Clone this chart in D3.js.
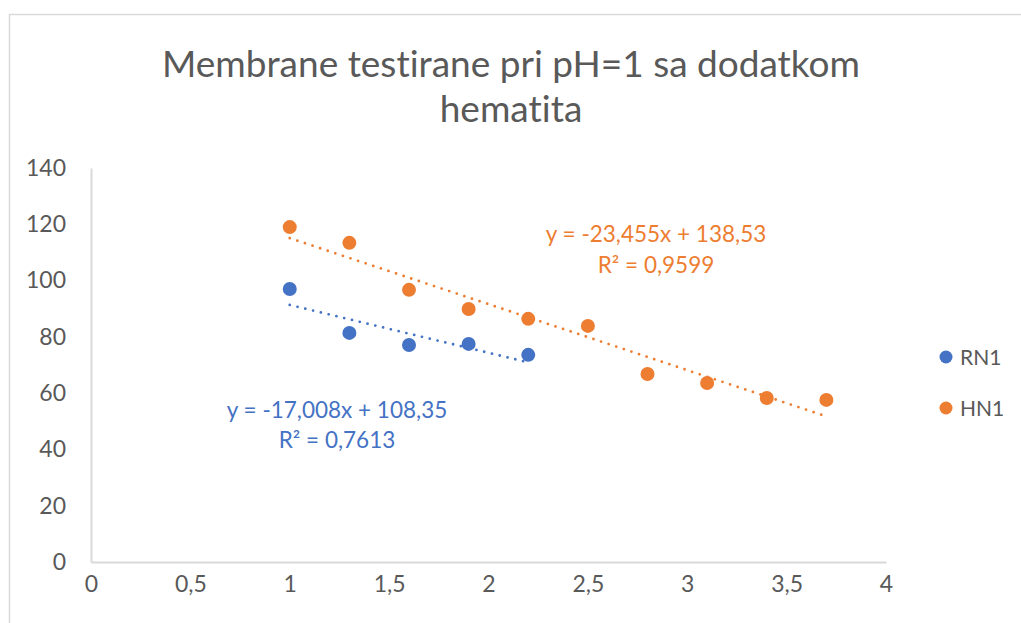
<!DOCTYPE html>
<html>
  <head>
    <script src="https://d3js.org/d3.v7.min.js"></script>
    <style>
      body { margin: 0; background: #fff; }
      text { font-family: Lato, "Open Sans", sans-serif; font-variant-ligatures: none; }
    </style>
  </head>
  <body>
    <svg id="chart" width="1021" height="623"></svg>
    <script>
      // data
      const xsRN1 = [1, 1.3, 1.6, 1.9, 2.2];
      const ysRN1 = [97, 81.4, 77.1, 77.5, 73.6];
      const xsHN1 = [1, 1.3, 1.6, 1.9, 2.2, 2.5, 2.8, 3.1, 3.4, 3.7];
      const ysHN1 = [119, 113.4, 96.7, 89.9, 86.4, 83.9, 66.8, 63.6, 58.3, 57.6];
      // trendline coefficients from the labels
      const trendRN1 = [-17.008, 108.35];
      const trendHN1 = [-23.455, 138.53];
      const xTicks = [0, 0.5, 1, 1.5, 2, 2.5, 3, 3.5, 4];
      const yTicks = [0, 20, 40, 60, 80, 100, 120, 140];
      const seriesNames = ["RN1", "HN1"];

      const blue = "#4472C4", orange = "#ED7D31", grey = "#595959";

      let svg = d3.select("#chart");

      // outer border of the chart area
      svg.append("rect")
        .attr("x", 9.5).attr("y", 14.5)
        .attr("width", 1030).attr("height", 630)
        .attr("fill", "none").attr("stroke", "#d9d9d9").attr("stroke-width", 1.5);

      let xScale = d3.scaleLinear().domain([0, 4]).range([91, 886]);
      let yScale = d3.scaleLinear().domain([0, 140]).range([562, 168]);

      // title
      svg.append("text").attr("x", 511).attr("y", 77)
        .attr("text-anchor", "middle").attr("font-size", 37).attr("fill", grey)
        .text("Membrane testirane pri pH=1 sa dodatkom");
      svg.append("text").attr("x", 511).attr("y", 122)
        .attr("text-anchor", "middle").attr("font-size", 37).attr("fill", grey)
        .text("hematita");

      // axes
      let xAxis = d3.axisBottom(xScale).tickValues(xTicks).tickSize(0).tickPadding(14)
        .tickFormat(d => String(d).replace(".", ","));
      let gx = svg.append("g").attr("transform", "translate(0," + yScale(0) + ")").call(xAxis);
      gx.select(".domain").attr("stroke", "#d9d9d9").attr("stroke-width", 2);
      gx.selectAll("text").attr("font-size", 23).attr("fill", grey).attr("font-family", "Lato");

      let yAxis = d3.axisLeft(yScale).tickValues(yTicks).tickSize(0).tickPadding(25);
      let gy = svg.append("g").attr("transform", "translate(" + xScale(0) + ",0)").call(yAxis);
      gy.select(".domain").attr("stroke", "#d9d9d9").attr("stroke-width", 2);
      gy.selectAll("text").attr("font-size", 23).attr("fill", grey).attr("font-family", "Lato");

      // dotted trendlines
      const trendLine = (xs, coef, color) => {
        let x0 = d3.min(xs), x1 = d3.max(xs);
        svg.append("line")
          .attr("x1", xScale(x0)).attr("y1", yScale(coef[0] * x0 + coef[1]))
          .attr("x2", xScale(x1)).attr("y2", yScale(coef[0] * x1 + coef[1]))
          .attr("stroke", color).attr("stroke-width", 2.8)
          .attr("stroke-linecap", "round").attr("stroke-dasharray", "0,8");
      };
      trendLine(xsRN1, trendRN1, blue);
      trendLine(xsHN1, trendHN1, orange);

      // points
      svg.append("g").selectAll("circle").data(xsRN1)
        .join("circle")
        .attr("cx", d => xScale(d))
        .attr("cy", (d, i) => yScale(ysRN1[i]))
        .attr("r", 7).attr("fill", blue);
      svg.append("g").selectAll("circle").data(xsHN1)
        .join("circle")
        .attr("cx", d => xScale(d))
        .attr("cy", (d, i) => yScale(ysHN1[i]))
        .attr("r", 7).attr("fill", orange);

      // trendline labels
      const fmt = v => String(v).replace(".", ",");
      svg.append("text").attr("x", 656).attr("y", 242).attr("text-anchor", "middle")
        .attr("font-size", 22.5).attr("fill", orange)
        .text("y = " + fmt(trendHN1[0]) + "x + " + fmt(trendHN1[1]));
      svg.append("text").attr("x", 656).attr("y", 273).attr("text-anchor", "middle")
        .attr("font-size", 22.5).attr("fill", orange)
        .text("R² = 0,9599");
      svg.append("text").attr("x", 337).attr("y", 418).attr("text-anchor", "middle")
        .attr("font-size", 22.5).attr("fill", blue)
        .text("y = " + fmt(trendRN1[0]) + "x + " + fmt(trendRN1[1]));
      svg.append("text").attr("x", 337).attr("y", 448).attr("text-anchor", "middle")
        .attr("font-size", 22.5).attr("fill", blue)
        .text("R² = 0,7613");

      // legend
      let legend = svg.append("g");
      seriesNames.forEach((name, i) => {
        legend.append("circle").attr("cx", 946).attr("cy", 357 + i * 51)
          .attr("r", 6.5).attr("fill", i == 0 ? blue : orange);
        legend.append("text").attr("x", 960).attr("y", 365 + i * 51)
          .attr("font-size", 21).attr("fill", grey).text(name);
      });
    </script>
  </body>
</html>
